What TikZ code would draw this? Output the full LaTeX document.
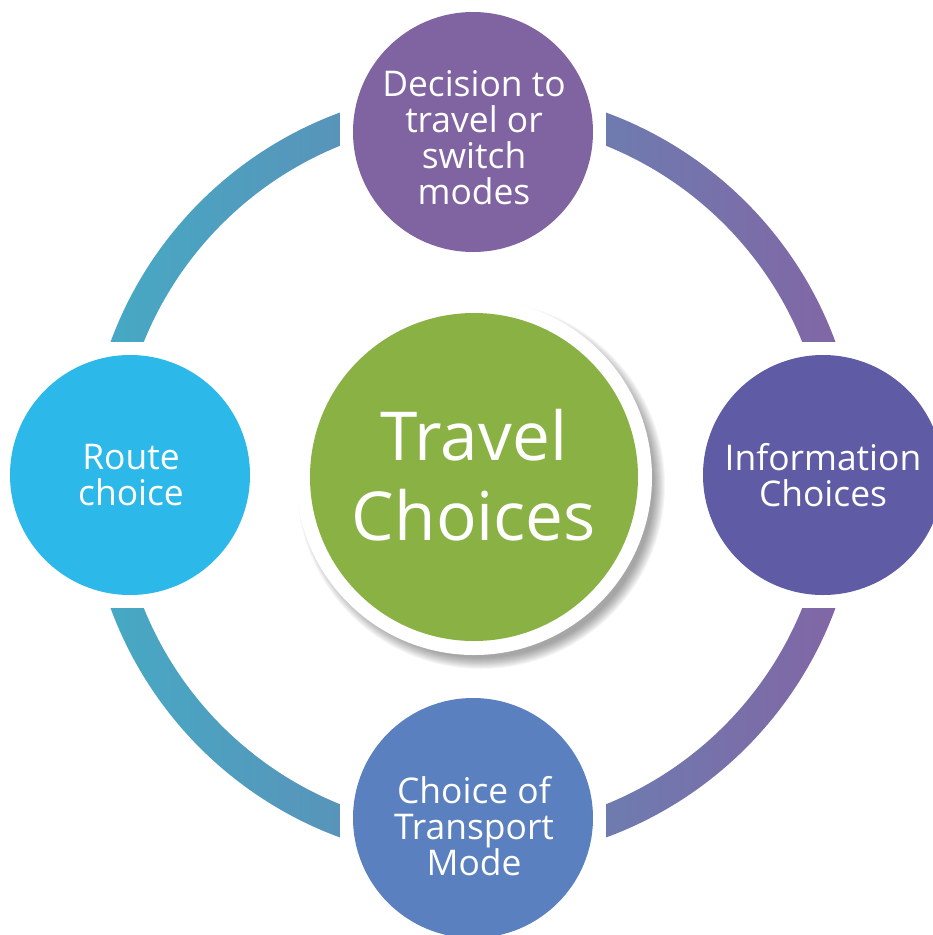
\documentclass[tikz,border=0pt]{standalone}
\usepackage{fontspec}
\setmainfont{Open Sans}
\definecolor{ringL}{HTML}{44ABC5}
\definecolor{ringR}{HTML}{8364A4}
\definecolor{topc}{HTML}{8064A2}
\definecolor{rightc}{HTML}{5F5BA4}
\definecolor{bottomc}{HTML}{5B80BF}
\definecolor{leftc}{HTML}{2CB9EA}
\definecolor{greenc}{HTML}{8AB143}
\tikzset{
  sat/.style={circle, minimum size=240pt, inner sep=0pt, draw=none},
  lbl/.style={align=center, text=white, inner sep=0pt, font=\fontsize{35.4}{36}\selectfont},
  biglbl/.style={align=center, text=white, inner sep=0pt, font=\fontsize{67.5}{80}\selectfont},
}
\begin{document}
\begin{tikzpicture}[x=1pt,y=-1pt]
\useasboundingbox (0,0) rectangle (933,935);
\clip (0,0) rectangle (933,935);
\coordinate (c) at (473,475);
% ring
\shade[left color=ringL, right color=ringR, even odd rule]
  (c) circle[radius=386pt] (c) circle[radius=355pt];
% gaps at the satellites
\fill[white] (340,-5) rectangle (606,263);
\fill[white] (340,686) rectangle (606,940);
\fill[white] (-5,342) rectangle (263,608);
\fill[white] (690,342) rectangle (940,608);
% soft shadow of the centre circle
\foreach \i in {0,...,11} {
  \fill[black, opacity=0.035] (481,485) circle[radius={(184-\i)*1pt}];
}
% centre circle
\node[circle, minimum size=356pt, inner sep=0pt, fill=white] (ctrw) at (474,477) {};
\node[circle, minimum size=328pt, inner sep=0pt, fill=greenc] (ctr) at (474,477) {};
\node[biglbl] (ctrl) at (474,475) {Travel\\Choices};
% satellites
\node[sat, fill=topc] (top) at (473,132) {};
\node[lbl] (topl) at (474,138) {Decision to\\travel or\\switch\\modes};
\node[sat, fill=rightc] (right) at (823,475) {};
\node[lbl] (rightl) at (823,475) {Information\\Choices};
\node[sat, fill=bottomc] (bottom) at (473,818) {};
\node[lbl] (bottoml) at (474,826) {Choice of\\Transport\\Mode};
\node[sat, fill=leftc] (left) at (130,475) {};
\node[lbl] (leftl) at (131,475) {Route\\choice};
\end{tikzpicture}
\end{document}
